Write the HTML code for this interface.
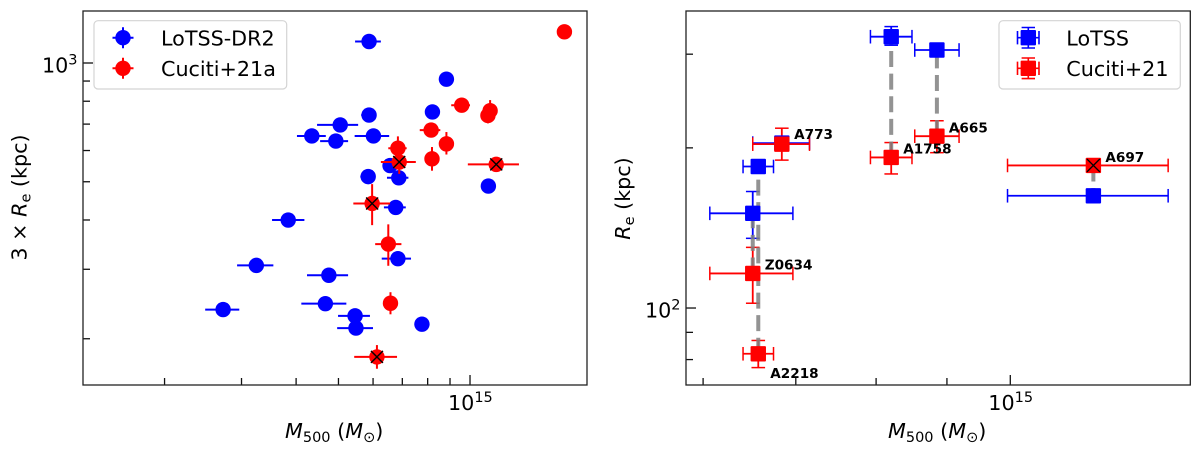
<!DOCTYPE html>
<html lang="en">
<head>
<meta charset="utf-8">
<title>Radio halo size versus cluster mass</title>
<style>
html,body{margin:0;padding:0;background:#fff;width:1200px;height:455px;overflow:hidden}
svg{display:block}
text{font-family:"DejaVu Sans","Liberation Sans",sans-serif;fill:#000}
.ax{font-size:20.7px}
.leg{font-size:20.7px}
.cl{font-size:13.6px;font-weight:bold}
</style>
</head>
<body>
<svg id="fig" width="1200" height="455" viewBox="0 0 1200 455" xmlns="http://www.w3.org/2000/svg">
  <rect width="1200" height="455" fill="#fff"/>
  <g id="left-panel"></g>
  <g id="right-panel"></g>

  <text class="ax" x="285" y="438"><tspan font-style="italic">M</tspan><tspan font-size="14.5" dy="4">500</tspan><tspan dy="-4" xml:space="preserve"> (</tspan><tspan font-style="italic">M</tspan><tspan font-size="14.5" dy="4">⊙</tspan><tspan dy="-4">)</tspan></text>
  <text class="ax" x="888" y="438"><tspan font-style="italic">M</tspan><tspan font-size="14.5" dy="4">500</tspan><tspan dy="-4" xml:space="preserve"> (</tspan><tspan font-style="italic">M</tspan><tspan font-size="14.5" dy="4">⊙</tspan><tspan dy="-4">)</tspan></text>
  <text class="ax" text-anchor="middle" transform="translate(26.5,197.5) rotate(-90)">3 × <tspan font-style="italic">R</tspan><tspan font-size="14.5" dy="4">e</tspan><tspan dy="-4" xml:space="preserve"> (kpc)</tspan></text>
  <text class="ax" text-anchor="middle" transform="translate(630,198.5) rotate(-90)"><tspan font-style="italic">R</tspan><tspan font-size="14.5" dy="4">e</tspan><tspan dy="-4" xml:space="preserve"> (kpc)</tspan></text>

  <g>
    <rect x="94" y="20.7" width="192.7" height="68.3" rx="4" fill="#fff" fill-opacity="0.8" stroke="#d4d4d4" stroke-width="1.2"/>
    <g>
      <path d="M112.5 37.7H133.5M123 27.2V48.2" stroke="#00f" stroke-width="2" fill="none"/>
      <circle cx="123" cy="37.7" r="7.7" fill="#00f"/>
      <text class="leg" x="161" y="45.7">LoTSS-DR2</text>
    </g>
    <g>
      <path d="M112.5 68.3H133.5M123 57.8V78.8" stroke="#f00" stroke-width="2" fill="none"/>
      <circle cx="123" cy="68.3" r="7.7" fill="#f00"/>
      <text class="leg" x="161" y="76">Cuciti+21a</text>
    </g>
  </g>

  <g>
    <rect x="999" y="20.7" width="181.3" height="68.3" rx="4" fill="#fff" fill-opacity="0.8" stroke="#d4d4d4" stroke-width="1.2"/>
    <g>
      <path d="M1017.5 37.7H1039M1028.3 27.5V48M1017.5 31V44.4M1039 31V44.4M1021.6 27.5H1035M1021.6 48H1035" stroke="#00f" stroke-width="1.6" fill="none"/>
      <rect x="1020.6" y="30" width="15.4" height="15.4" rx="1" fill="#00f"/>
      <text class="leg" x="1066.3" y="45.7">LoTSS</text>
    </g>
    <g>
      <path d="M1017.5 68.3H1039M1028.3 58V78.6M1017.5 61.6V75M1039 61.6V75M1021.6 58H1035M1021.6 78.6H1035" stroke="#f00" stroke-width="1.6" fill="none"/>
      <rect x="1020.6" y="60.6" width="15.4" height="15.4" rx="1" fill="#f00"/>
      <text class="leg" x="1066.3" y="76">Cuciti+21</text>
    </g>
  </g>
</svg>

<script>
// ---- Tick data (axis values) ----
var leftXMinorTicks = [2e14, 3e14, 4e14, 5e14, 6e14, 7e14, 8e14, 9e14];
var leftXMajorTicks = [1e15];
var leftXTickBase = ['10'];
var leftXTickExp = ['15'];
var leftYMinorTicks = [200, 300, 400, 500, 600, 700, 800, 900];
var leftYMajorTicks = [1000];
var leftYTickBase = ['10'];
var leftYTickExp = ['3'];
var rightXMinorTicks = [6e14, 7e14, 8e14, 9e14];
var rightXMajorTicks = [1e15];
var rightXTickBase = ['10'];
var rightXTickExp = ['15'];
var rightYMinorTicks = [80, 90, 200, 300];
var rightYMajorTicks = [100];
var rightYTickBase = ['10'];
var rightYTickExp = ['2'];

// ---- Left panel: log10(M500/Msun), log10(3Re/kpc), and errors in dex ----
var lotssDr2LogMass = [14.769,14.946,14.914,14.769,14.703,14.638,14.779,14.693,14.817,14.837,14.767,14.830,15.042,14.584,14.511,14.435,14.835,14.677,14.669,14.737,14.739,14.890];
var lotssDr2LogSize = [3.0545,2.959,2.876,2.868,2.843,2.815,2.815,2.802,2.740,2.709,2.712,2.634,2.688,2.602,2.487,2.375,2.504,2.462,2.390,2.359,2.328,2.338];
var lotssDr2MassErrLow = [0.032,0,0,0.018,0.053,0.034,0.043,0.036,0,0.027,0.018,0.027,0,0.037,0.044,0.041,0.037,0.050,0.055,0.039,0.043,0];
var lotssDr2MassErrHigh = [0.027,0,0,0.012,0.041,0.032,0.036,0.028,0,0.022,0.012,0.023,0,0.037,0.039,0.037,0.030,0.044,0.048,0.034,0.039,0];

var cucitiLogMass = [15.216,14.981,15.046,15.041,14.911,14.946,14.835,14.838,14.913,15.060,14.776,14.813,14.818,14.787];
var cucitiLogSize = [3.079,2.893,2.879,2.867,2.830,2.795,2.784,2.749,2.757,2.743,2.644,2.541,2.391,2.255];
var cucitiMassErrLow = [0,0.024,0,0,0.026,0,0.022,0.042,0,0.065,0.043,0.030,0,0.052];
var cucitiMassErrHigh = [0,0.019,0,0,0.021,0,0.020,0.038,0,0.052,0.041,0.030,0,0.046];
var cucitiSizeErrLow = [0,0,0,0.020,0,0.027,0.030,0.030,0.030,0,0.055,0.055,0.028,0.030];
var cucitiSizeErrHigh = [0,0,0.027,0,0,0.030,0.030,0.030,0.030,0,0.049,0.050,0.028,0.030];
var cucitiCrossed = [0,0,0,0,0,0,0,1,0,1,1,0,0,1];

// ---- Right panel: six clusters, log10(M500/Msun), log10(Re/kpc), errors in dex ----
var clusterNames = ['Z0634','A2218','A773','A1758','A665','A697'];
var clusterLogMass = [14.814,14.818,14.835,14.914,14.947,15.060];
var clusterMassErrLow = [0.031,0.011,0.021,0.015,0.016,0.062];
var clusterMassErrHigh = [0.029,0.011,0.020,0.015,0.016,0.054];
var lotssLogRe = [2.178,2.266,2.310,2.510,2.485,2.211];
var lotssReErrLow = [0.047,0.008,0.010,0.016,0.008,0.008];
var lotssReErrHigh = [0.041,0.008,0.010,0.019,0.008,0.008];
var cuciti21LogRe = [2.065,1.914,2.308,2.283,2.323,2.268];
var cuciti21ReErrLow = [0.056,0.026,0.030,0.031,0.031,0.008];
var cuciti21ReErrHigh = [0.049,0.025,0.030,0.028,0.029,0.008];
var cuciti21Crossed = [0,0,0,0,0,1];

var NS = 'http://www.w3.org/2000/svg';
function mk(tag, attrs, parent) {
  var el = document.createElementNS(NS, tag);
  for (var k in attrs) el.setAttribute(k, attrs[k]);
  parent.appendChild(el);
  return el;
}
function scale(d0, d1, r0, r1) {
  return function (v) { return r0 + (v - d0) / (d1 - d0) * (r1 - r0); };
}

var leftBox = {l: 83, r: 587, t: 11, b: 385};
var rightBox = {l: 686, r: 1190.3, t: 11, b: 385};
var xL = scale(14.1144, 15.2677, leftBox.l, leftBox.r);
var yL = scale(2.1838, 3.1318, leftBox.b, leftBox.t);
var xR = scale(14.7658, 15.1300, rightBox.l, rightBox.r);
var yR = scale(1.8553, 2.5583, rightBox.b, rightBox.t);

function tickLabel(parent, x, y, base, exp, anchor, name) {
  var t = mk('text', {x: x, y: y, 'class': 'ax', 'text-anchor': anchor}, parent);
  
  
  t.appendChild(document.createTextNode(base));
  var s = mk('tspan', {'font-size': 14.5, dy: -8}, t);
  s.textContent = exp;
}

function drawAxes(parent, box, xf, yf, xMinor, xMajor, xBase, xExp, yMinor, yMajor, yBase, yExp, prefix) {
  var g = mk('g', {stroke: '#111', 'stroke-width': 1.3, fill: 'none'}, parent);
  
  
  xMinor.forEach(function (v) {
    var x = xf(Math.log10(v));
    var tick = mk('line', {x1: x, x2: x, y1: box.b, y2: box.b - 7}, g);
    
    
  });
  xMajor.forEach(function (v, i) {
    var x = xf(Math.log10(v));
    var tick = mk('line', {x1: x, x2: x, y1: box.b, y2: box.b - 10}, g);
    
    
    tickLabel(parent, x - 22, 410, xBase[i], xExp[i], 'start', prefix + '-x-tick-label');
  });
  yMinor.forEach(function (v) {
    var y = yf(Math.log10(v));
    var tick = mk('line', {x1: box.l, x2: box.l + 7, y1: y, y2: y}, g);
    
    
  });
  yMajor.forEach(function (v, i) {
    var y = yf(Math.log10(v));
    var tick = mk('line', {x1: box.l, x2: box.l + 10, y1: y, y2: y}, g);
    
    
    tickLabel(parent, box.l - 5.5, y + 9.5, yBase[i], yExp[i], 'end', prefix + '-y-tick-label');
  });
}

function drawFrame(parent, box, name) {
  var f = mk('rect', {x: box.l, y: box.t, width: box.r - box.l, height: box.b - box.t, fill: 'none', stroke: '#222', 'stroke-width': 1.3}, parent);
  
  
}

function errLine(parent, x1, y1, x2, y2, color, w, name) {
  var l = mk('line', {x1: x1, y1: y1, x2: x2, y2: y2, stroke: color, 'stroke-width': w}, parent);
  
  
}

function cross(parent, x, y, h, name) {
  var p = mk('path', {d: 'M' + (x - h) + ' ' + (y - h) + 'L' + (x + h) + ' ' + (y + h) + 'M' + (x - h) + ' ' + (y + h) + 'L' + (x + h) + ' ' + (y - h), stroke: '#000', 'stroke-width': 1.4, fill: 'none'}, parent);
  
  
}

// ---------- LEFT PANEL ----------
var LP = document.getElementById('left-panel');
drawAxes(LP, leftBox, xL, yL, leftXMinorTicks, leftXMajorTicks, leftXTickBase, leftXTickExp, leftYMinorTicks, leftYMajorTicks, leftYTickBase, leftYTickExp, 'left');

var lotssGroup = mk('g', {}, LP);


lotssDr2LogMass.forEach(function (m, i) {
  var s = lotssDr2LogSize[i];
  var x = xL(m), y = yL(s);
  if (lotssDr2MassErrLow[i] || lotssDr2MassErrHigh[i]) {
    errLine(lotssGroup, xL(m - lotssDr2MassErrLow[i]), y, xL(m + lotssDr2MassErrHigh[i]), y, '#00f', 2, 'lotss-dr2-mass-error');
  }
  var c = mk('circle', {cx: x, cy: y, r: 7.7, fill: '#00f'}, lotssGroup);
  
  
});

var cucitiGroup = mk('g', {}, LP);


cucitiLogMass.forEach(function (m, i) {
  var s = cucitiLogSize[i];
  var x = xL(m), y = yL(s);
  if (cucitiMassErrLow[i] || cucitiMassErrHigh[i]) {
    errLine(cucitiGroup, xL(m - cucitiMassErrLow[i]), y, xL(m + cucitiMassErrHigh[i]), y, '#f00', 2, 'cuciti-21a-mass-error');
  }
  if (cucitiSizeErrLow[i] || cucitiSizeErrHigh[i]) {
    errLine(cucitiGroup, x, yL(s - cucitiSizeErrLow[i]), x, yL(s + cucitiSizeErrHigh[i]), '#f00', 2, 'cuciti-21a-size-error');
  }
  var c = mk('circle', {cx: x, cy: y, r: 7.7, fill: '#f00'}, cucitiGroup);
  
  
  if (cucitiCrossed[i]) cross(cucitiGroup, x, y, 6, 'cuciti-21a-cross-marker');
});
drawFrame(LP, leftBox, 'left-plot-frame');

// ---------- RIGHT PANEL ----------
var RP = document.getElementById('right-panel');
drawAxes(RP, rightBox, xR, yR, rightXMinorTicks, rightXMajorTicks, rightXTickBase, rightXTickExp, rightYMinorTicks, rightYMajorTicks, rightYTickBase, rightYTickExp, 'right');

function clusterErrors(parent, logRe, errLow, errHigh, color, prefix) {
  clusterLogMass.forEach(function (m, i) {
    var s = logRe[i];
    var x = xR(m), y = yR(s);
    var x0 = xR(m - clusterMassErrLow[i]), x1 = xR(m + clusterMassErrHigh[i]);
    var y0 = yR(s - errLow[i]), y1 = yR(s + errHigh[i]);
    errLine(parent, x0, y, x1, y, color, 1.8, prefix + '-mass-error');
    errLine(parent, x, y0, x, y1, color, 1.8, prefix + '-size-error');
    errLine(parent, x0, y - 6.8, x0, y + 6.8, color, 1.5, prefix + '-mass-error-cap');
    errLine(parent, x1, y - 6.8, x1, y + 6.8, color, 1.5, prefix + '-mass-error-cap');
    errLine(parent, x - 6.8, y0, x + 6.8, y0, color, 1.5, prefix + '-size-error-cap');
    errLine(parent, x - 6.8, y1, x + 6.8, y1, color, 1.5, prefix + '-size-error-cap');
  });
}
function clusterMarkers(parent, logRe, color, prefix) {
  clusterLogMass.forEach(function (m, i) {
    var x = xR(m), y = yR(logRe[i]);
    var r = mk('rect', {x: x - 7.7, y: y - 7.7, width: 15.4, height: 15.4, rx: 1, fill: color}, parent);
    
    
  });
}

var errGroup = mk('g', {}, RP);


clusterErrors(errGroup, lotssLogRe, lotssReErrLow, lotssReErrHigh, '#00f', 'lotss');
clusterErrors(errGroup, cuciti21LogRe, cuciti21ReErrLow, cuciti21ReErrHigh, '#f00', 'cuciti-21');

var linkGroup = mk('g', {}, RP);


clusterLogMass.forEach(function (m, i) {
  var x = xR(m);
  var l = mk('line', {x1: x, x2: x, y1: yR(cuciti21LogRe[i]), y2: yR(lotssLogRe[i]), stroke: '#808080', 'stroke-opacity': 0.85, 'stroke-width': 4, 'stroke-dasharray': '16 6.6'}, linkGroup);
  
  
});

var markGroup = mk('g', {}, RP);


clusterMarkers(markGroup, lotssLogRe, '#00f', 'lotss');
clusterMarkers(markGroup, cuciti21LogRe, '#f00', 'cuciti-21');
clusterLogMass.forEach(function (m, i) {
  if (cuciti21Crossed[i]) cross(markGroup, xR(m), yR(cuciti21LogRe[i]), 6.5, 'cuciti-21-cross-marker');
});

// label offsets are layout, derived from each cluster's red marker
var labelDx = [12, 12, 12.3, 12, 12, 12];
var labelDy = [-4, 24, -5, -4, -3.7, -3.6];
var labelGroup = mk('g', {}, RP);


clusterNames.forEach(function (n, i) {
  var t = mk('text', {x: xR(clusterLogMass[i]) + labelDx[i], y: yR(cuciti21LogRe[i]) + labelDy[i], 'class': 'cl'}, labelGroup);
  
  
  t.textContent = n;
});
drawFrame(RP, rightBox, 'right-plot-frame');
</script>
</body>
</html>
